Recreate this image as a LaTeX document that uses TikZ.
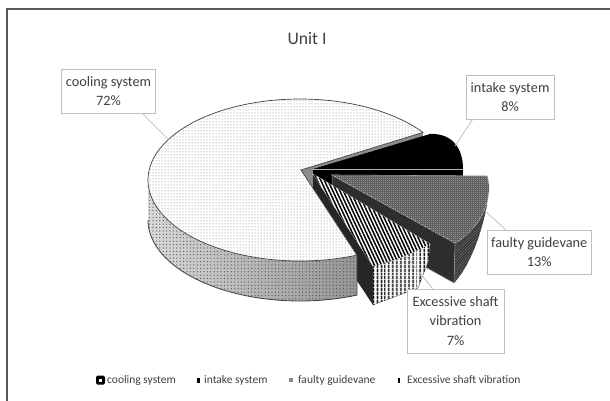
\documentclass[tikz,border=0pt]{standalone}
\usepackage{fontspec}
\setmainfont{Carlito}
\usetikzlibrary{patterns.meta,calc}
\begin{document}
\begin{tikzpicture}[x=1pt,y=-1pt,
  lbl/.style={draw=black!25, fill=white, line width=0.8pt, text=black!75,
    font=\fontsize{14.3}{19.5}\selectfont, align=center, inner sep=0pt},
  leader/.style={draw=black!25, line width=0.8pt},
  leg/.style={anchor=west, text=black!75, font=\fontsize{11.5}{13}\selectfont, inner sep=0pt},
  coolface/.style={fill=white, draw=black!75, line width=0.7pt,
    postaction={pattern={Dots[radius=0.5pt,distance=3pt]}, pattern color=black!55}},
  coolwall/.style={left color=black!15, right color=black!42,
    postaction={pattern={Dots[radius=0.6pt,distance=3.4pt]}, pattern color=black!70}},
  intakeface/.style={fill=black},
  faultface/.style={fill=black!45,
    postaction={pattern={Hatch[distance=2pt,line width=0.4pt]}, pattern color=black!62}},
  faultwall/.style={fill=black!80,
    postaction={pattern={Lines[angle=45,distance=2pt,line width=0.5pt]}, pattern color=black!55}},
  excface/.style={fill=white,
    postaction={pattern={Lines[angle=-65,distance=3.2pt,line width=1.5pt]}, pattern color=black}},
  excwall/.style={fill=white,
    postaction={pattern={Lines[angle=90,distance=4pt,line width=2pt]}, pattern color=black}},
  darkwall/.style={fill=black!85}
]
\useasboundingbox (0,0) rectangle (610,401);
\fill[white] (0,0) rectangle (610,401);
\draw[black!65, line width=1.4pt] (7,402) -- (7,9) -- (611,9);

% key points
\coordinate (Ac) at (301,170);
\coordinate (A) at ({300+152*cos(-36)},{180+81*sin(-36)});
\coordinate (B) at ({300+152*cos(68)},{180+81*sin(68)});
\coordinate (Ai) at (313,169);
\coordinate (I1) at (430,134);
\coordinate (I2) at (463,169);
\coordinate (Af) at (332,175);
\coordinate (F1) at (487,176);
\coordinate (F2) at (455,243);
\coordinate (Ae) at (313,174);
\coordinate (E1) at (373,266);
\coordinate (E2) at (430,244);
\coordinate (cc) at ({300+152*cos(-150)},{180+81*sin(-150)});
\coordinate (ci) at (455,146);
\coordinate (cf) at (485,211);
\coordinate (ce) at (406,256);

% ---- walls (back to front)
\fill[black!45] (Ac) -- (A) -- ++(0,40) -- ($(Ac)+(0,40)$) -- cycle;
\fill[black] (Ai) -- (I2) -- ++(0,40) -- ($(Ai)+(0,40)$) -- cycle;
\path[faultwall] (F1) .. controls (494,195) and (482,228) .. (F2) -- (454,283)
   .. controls (468,268) and (480,240) .. (487,205) -- cycle;
\path[fill=black!82, draw=black!40, line width=0.5pt] (Af) -- (F2) -- (454,283) -- (332,215) -- cycle;
\path[darkwall] (Ae) -- (E1) -- (373,305) -- (313,214) -- cycle;
\path[coolwall] plot[domain=180:68,samples=80] ({300+152*cos(\x)},{180+81*sin(\x)})
   -- plot[domain=68:180,samples=80] ({300+152*cos(\x)},{220+81*sin(\x)}) -- cycle;
\draw[black!75, line width=0.8pt] plot[domain=180:68,samples=80] ({300+152*cos(\x)},{220+81*sin(\x)}) -- (B);
\path[excwall, draw=black!60, line width=0.4pt] (E1) .. controls (392,262) and (412,253) .. (E2)
   -- (428,262) -- (418,288) -- (373,305) -- cycle;

% ---- top faces
\path[coolface] (Ac) -- plot[domain=-36:-292,samples=160] ({300+152*cos(\x)},{180+81*sin(\x)}) -- cycle;
\path[intakeface] (Ai) -- (I1) .. controls (452,133) and (463,148) .. (I2) -- cycle;
\draw[white!70!black, line width=0.6pt] (I2) -- (Ai);
\path[faultface, draw=white!75!black, line width=0.6pt] (Af) -- (F1) .. controls (494,195) and (482,228) .. (F2) -- cycle;
\path[excface, draw=white!85!black, line width=0.5pt] (Ae) -- (E1) .. controls (392,262) and (412,253) .. (E2) -- cycle;

% ---- title
\node[font=\fontsize{17.6}{20}\selectfont, text=black!75] (title) at (307,39) {Unit I};

% ---- labels
\node[lbl, minimum width=94pt, minimum height=44pt] (Lc) at (108.5,91) {cooling system\\72\%};
\node[lbl, minimum width=88pt, minimum height=44pt] (Li) at (510,97) {intake system\\8\%};
\node[lbl, minimum width=103.5pt, minimum height=44pt] (Lf) at (539.25,252) {faulty guidevane\\13\%};
\node[lbl, minimum width=97pt, minimum height=64pt] (Le) at (455.5,321) {Excessive shaft\\vibration\\7\%};

\draw[leader] ($(Lc.south east)+(-13.6,0)$) -- (cc);
\draw[leader] ($(Li.south west)+(7,0)$) -- (ci);
\draw[leader] ($(Lf.north west)+(18.5,0)$) -- (cf);
\draw[leader] ($(Le.north west)+(26,0)$) -- (ce);

% ---- legend
\node[fill=black, rounded corners=1.5pt, minimum size=9pt, inner sep=0pt] (k1) at (100.5,380) {};
\node[fill=white, minimum size=3pt, inner sep=0pt] (k1i) at (100.5,380) {};
\node[leg] (l1) at (107,380) {cooling system};
\node[fill=black, minimum width=3pt, minimum height=5pt, inner sep=0pt] (k2) at (198.5,380) {};
\node[leg] (l2) at (204,380) {intake system};
\node[fill=black!45, minimum size=4pt, inner sep=0pt] (k3) at (291,380) {};
\node[leg] (l3) at (298,380) {faulty guidevane};
\node[fill=black, minimum width=2pt, minimum height=5pt, inner sep=0pt] (k4) at (399,380) {};
\node[leg] (l4) at (407,380) {Excessive shaft vibration};
\end{tikzpicture}
\end{document}
